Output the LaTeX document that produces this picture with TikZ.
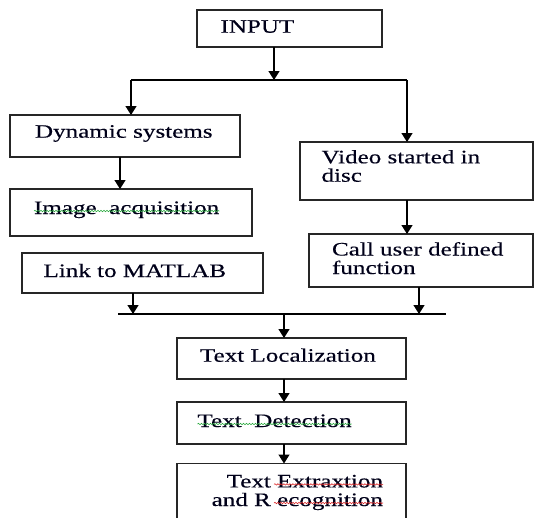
\documentclass[tikz,border=0pt]{standalone}
\usepackage{fontspec}
\setmainfont[FakeStretch=1.32,FakeBold=0.35]{Liberation Serif}
\usetikzlibrary{arrows.meta,decorations.pathmorphing}
\definecolor{spellgreen}{RGB}{40,170,60}
\definecolor{spellred}{RGB}{220,40,40}
\begin{document}
\begin{tikzpicture}[x=1pt,y=-1pt,
  box/.style={draw=black!85, line width=1.2pt, inner sep=0pt, outer sep=0pt, rectangle},
  lbl/.style={inner sep=0pt, outer sep=0pt, font=\fontsize{19pt}{19pt}\selectfont, text=black!90!blue},
  arr/.style={line width=1.3pt, -{Triangle[width=11pt,length=9pt]}},
  bar/.style={line width=1.3pt},
  wavy/.style={line width=0.6pt, decorate, decoration={snake, amplitude=0.7pt, segment length=3pt}}]
\useasboundingbox (0,0) rectangle (534,517);
\clip (0,0) rectangle (534,517);
% boxes
\node[box, minimum width=185pt, minimum height=37pt] (input) at (289.5,28.5) {};
\node[box, minimum width=230pt, minimum height=42pt] (dyn) at (125,136) {};
\node[box, minimum width=242pt, minimum height=47pt] (img) at (131,212.5) {};
\node[box, minimum width=233pt, minimum height=58pt] (video) at (416.5,171) {};
\node[box, minimum width=224pt, minimum height=53pt] (call) at (421,260.5) {};
\node[box, minimum width=241pt, minimum height=40pt] (link) at (142.5,273) {};
\node[box, minimum width=229pt, minimum height=41pt] (loc) at (291.5,358.5) {};
\node[box, minimum width=229pt, minimum height=42pt] (det) at (291.5,423) {};
\node[box, minimum width=229pt, minimum height=66pt] (ext) at (291.5,496.5) {};
% texts
\node[lbl, anchor=base west] (tInput) at (220.5,32.7) {INPUT};
\node[lbl, anchor=base west] (tDyn) at (35,137.7) {Dynamic systems};
\node[lbl, anchor=base west] (tImg) at (34,214) {Image\ \ acquisition};
\node[lbl, anchor=base west] (tVidA) at (321.5,163.3) {Video started in};
\node[lbl, anchor=base west] (tVidB) at (321.5,181.7) {disc};
\node[lbl, anchor=base west] (tCallA) at (332,255.5) {Call user defined};
\node[lbl, anchor=base west] (tCallB) at (332,274) {function};
\node[lbl, anchor=base west] (tLink) at (43.5,277) {Link to MATLAB};
\node[lbl, anchor=base west] (tLoc) at (200,361.7) {Text Localization};
\node[lbl, anchor=base west] (tDet) at (197.5,427) {Text\ \ Detection};
\node[lbl, anchor=base east] (tExtA) at (383,487.4) {Text Extraxtion};
\node[lbl, anchor=base east] (tExtB) at (383,506) {and R ecognition};
% spell-check underlines
\draw[wavy, spellgreen] ([yshift=3pt]tImg.base west) -- ([yshift=3pt]tImg.base east);
\draw[wavy, spellgreen] ([yshift=3pt]tDet.base west) -- ([yshift=3pt]tDet.base east);
\draw[wavy, spellred] ([xshift=-109pt,yshift=3pt]tExtA.base east) -- ([yshift=3pt]tExtA.base east);
\draw[wavy, spellred] ([xshift=-109pt,yshift=3pt]tExtB.base east) -- ([yshift=3pt]tExtB.base east);
% junction lines
\coordinate (j1) at (274,80);
\coordinate (j1L) at (131,80);
\coordinate (j1R) at (407,80);
\coordinate (j2L) at (118,314);
\coordinate (j2R) at (446,314);
\coordinate (j2) at (284,314);
\draw[bar] (j1L) -- (j1R);
\draw[bar] (j2L) -- (j2R);
% connectors
\draw[arr] ([xshift=-15.5pt]input.south) -- (j1);
\draw[arr] (j1L) -- (j1L |- dyn.north);
\draw[arr] (j1R) -- (j1R |- video.north);
\draw[arr] ([xshift=-5pt]dyn.south) -- ([xshift=-11pt]img.north);
\draw[arr] ([xshift=-9.5pt]video.south) -- ([xshift=-14pt]call.north);
\draw[arr] ([xshift=-9.5pt]link.south) -- ([xshift=-9.5pt]link.south |- j2);
\draw[arr] ([xshift=-2pt]call.south) -- ([xshift=-2pt]call.south |- j2);
\draw[arr] (j2) -- (j2 |- loc.north);
\draw[arr] ([xshift=-7.5pt]loc.south) -- ([xshift=-7.5pt]det.north);
\draw[arr] ([xshift=-7.5pt]det.south) -- ([xshift=-7.5pt]ext.north);
\end{tikzpicture}
\end{document}
